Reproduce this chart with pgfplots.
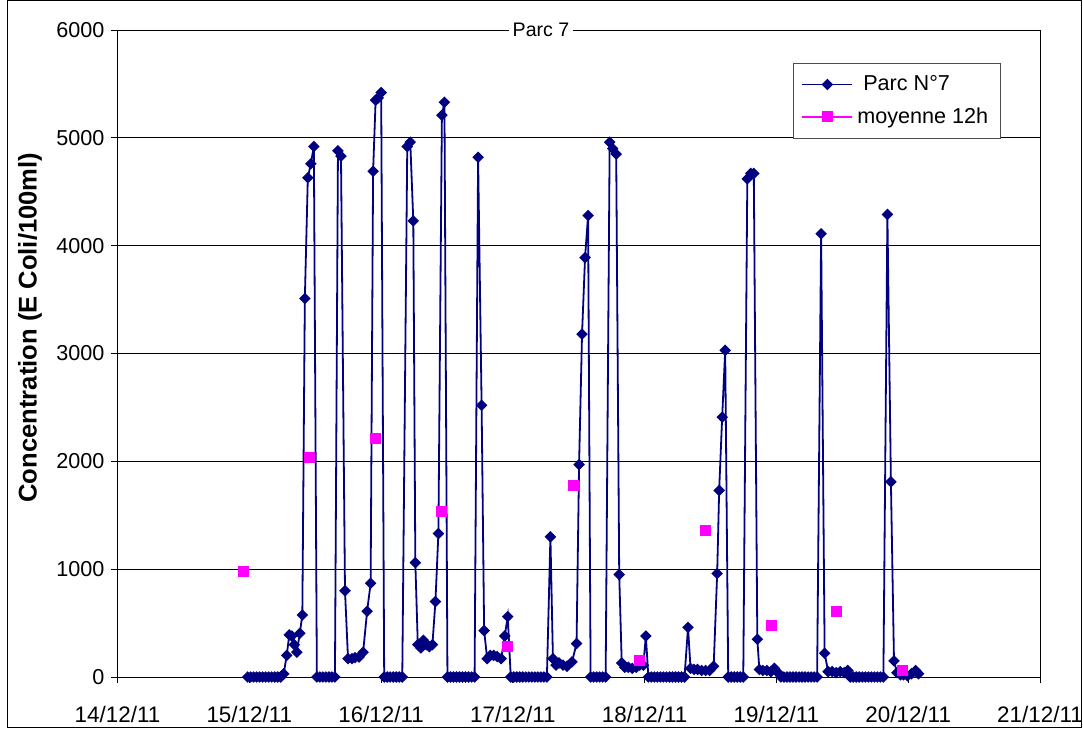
\documentclass[border=0pt]{standalone}
\usepackage{pgfplots}
\pgfplotsset{compat=1.18}
\usepackage{fontspec}
\setmainfont{Liberation Sans}
\definecolor{navyblue}{RGB}{0,0,128}
\definecolor{pinkm}{RGB}{255,0,255}
\begin{document}
\begin{tikzpicture}
\begin{axis}[
  at={(0,0)}, anchor=south west,
  scale only axis, width=461.25pt, height=323.5pt,
  xmin=0, xmax=168, ymin=0, ymax=6000,
  xtick={0,24,...,168},
  xticklabels={14/12/11,15/12/11,16/12/11,17/12/11,18/12/11,19/12/11,20/12/11,21/12/11},
  ytick={0,1000,...,6000},
  ymajorgrids, grid style={black, line width=0.5pt},
  axis line style={black, line width=0.5pt},
  tick align=outside, major tick length=3pt,
  xtick pos=bottom, ytick pos=left,
  tick style={black, line width=0.5pt},
  /pgf/number format/assume math mode=true,
  /pgf/number format/1000 sep={},
  tick label style={font=\fontsize{10.8}{13}\selectfont},
  xticklabel style={yshift=-8pt, font=\fontsize{11.2}{13}\selectfont},
  ylabel={Concentration (E Coli/100ml)},
  ylabel style={font=\bfseries\fontsize{12.8}{15}\selectfont, at={(axis description cs:-0.0949,0.54)}, anchor=center},
  legend style={at={(axis description cs:0.7322,0.949)}, anchor=north west, draw=black!70, line width=0.5pt, fill=white, font=\fontsize{10.8}{13}\selectfont, row sep=3pt, inner xsep=4pt, inner ysep=4pt},
  legend cell align=left,
  legend image code/.code={\draw[mark repeat=2,mark phase=2] plot coordinates {(0cm,0cm) (0.44cm,0cm) (0.88cm,0cm)};},
]
\addplot[navyblue, line width=0.9pt, mark=square*, mark size=1.6pt, mark options={rotate=45, solid, fill=navyblue}] coordinates {
(23.69,0)(24.24,0)(24.79,0)(25.34,0)(25.88,0)(26.43,0)(26.98,0)(27.53,0)(28.08,0)(28.63,0)(29.18,0)(29.73,0)(30.27,30)(30.82,200)(31.28,390)(31.74,380)(32.20,300)(32.65,230)(33.20,405)(33.66,575)(34.12,3510)(34.66,4630)(35.21,4760)(35.76,4920)(36.31,0)(36.86,0)(37.41,0)(37.96,0)(38.51,0)(39.05,0)(39.60,0)(40.15,4880)(40.70,4830)(41.43,800)(41.98,170)(42.71,170)(43.26,180)(43.99,185)(44.73,230)(45.46,610)(46.10,870)(46.55,4690)(47.01,5350)(47.47,5370)(48.02,5420)(48.57,0)(49.12,0)(49.66,0)(50.21,0)(50.76,0)(51.31,0)(51.86,0)(52.77,4920)(53.32,4960)(53.87,4230)(54.24,1060)(54.69,300)(55.24,270)(55.70,340)(56.25,300)(56.80,280)(57.35,300)(57.90,700)(58.44,1330)(59.08,5210)(59.54,5330)(60.09,0)(60.64,0)(61.19,0)(61.74,0)(62.29,0)(62.83,0)(63.38,0)(63.93,0)(64.48,0)(65.03,0)(65.67,4820)(66.31,2520)(66.77,430)(67.32,170)(67.87,200)(68.51,200)(69.15,190)(69.88,170)(70.52,380)(71.07,560)(71.62,0)(72.16,0)(72.71,0)(73.26,0)(73.81,0)(74.36,0)(74.91,0)(75.46,0)(76.01,0)(76.55,0)(77.10,0)(77.65,0)(78.20,0)(78.84,1300)(79.30,170)(79.85,110)(80.40,130)(81.13,110)(81.86,100)(82.77,140)(83.60,310)(84.06,1970)(84.60,3180)(85.15,3890)(85.70,4280)(86.16,0)(86.71,0)(87.26,0)(87.80,0)(88.35,0)(88.90,0)(89.63,4960)(90.18,4900)(90.82,4850)(91.37,950)(91.83,130)(92.38,90)(93.02,90)(93.75,80)(94.48,90)(95.12,110)(95.76,110)(96.22,380)(96.68,0)(97.23,0)(97.78,0)(98.32,0)(98.87,0)(99.42,0)(99.97,0)(100.52,0)(101.07,0)(101.62,0)(102.16,0)(102.71,0)(103.26,0)(103.90,460)(104.36,80)(105.00,70)(105.64,70)(106.37,60)(107.10,60)(107.84,60)(108.57,100)(109.21,960)(109.57,1730)(110.12,2410)(110.67,3030)(111.22,0)(111.77,0)(112.32,0)(112.87,0)(113.41,0)(113.96,0)(114.70,4620)(115.34,4670)(115.88,4670)(116.52,350)(116.89,70)(117.53,60)(118.26,60)(118.99,50)(119.63,80)(120.27,40)(120.82,0)(121.37,0)(121.92,0)(122.47,0)(123.02,0)(123.57,0)(124.12,0)(124.66,0)(125.21,0)(125.76,0)(126.31,0)(126.86,0)(127.41,0)(128.14,4110)(128.78,220)(129.42,50)(130.15,50)(130.88,40)(131.62,50)(132.35,40)(132.99,60)(133.45,0)(133.99,0)(134.54,0)(135.09,0)(135.64,0)(136.19,0)(136.74,0)(137.29,0)(137.83,0)(138.38,0)(138.93,0)(139.48,0)(140.21,4290)(140.85,1810)(141.41,150)(141.95,40)(142.59,20)(143.14,20)(143.87,10)(144.60,30)(145.34,60)(145.88,30)
};
\addlegendentry{\ Parc N°7}
\addlegendimage{pinkm, line width=0.9pt, mark=square*, mark size=2.3pt, mark options={solid, fill=pinkm}}
\addlegendentry{moyenne 12h}
\addplot[only marks, forget plot, mark=square*, mark size=2.5pt, draw=pinkm, fill=pinkm] coordinates {
(23,983)(35,2040)(47,2216)(59,1535)(71,280)(83,1780)(95,150)(107,1360)(119,476)(131,606)(143,58)
};
\end{axis}
\node[fill=white, inner xsep=2pt, inner ysep=1pt, font=\fontsize{9.8}{12}\selectfont] at (211.75pt,323.5pt) {Parc 7};
\draw[black, line width=0.5pt] (-54.75pt,-25.5pt) rectangle (481.75pt,338pt);
\pgfresetboundingbox
\path (-58.75pt,-26pt) rectangle (482.75pt,338.5pt);
\end{tikzpicture}
\end{document}
